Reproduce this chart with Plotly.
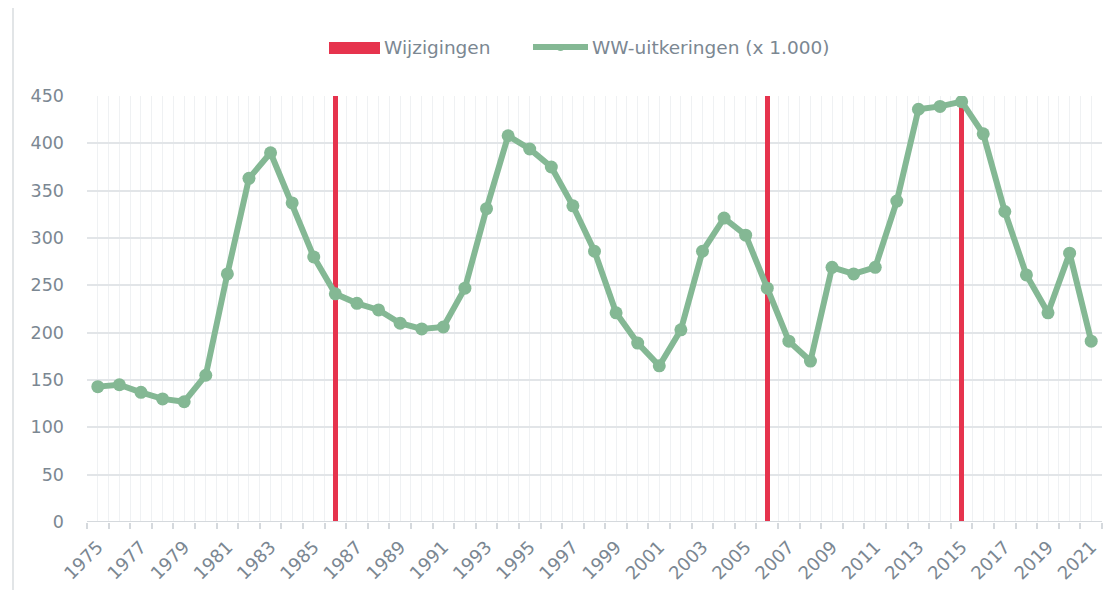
import plotly.graph_objects as go

years = list(range(1975, 2022))
ww_uitkeringen = [143, 145, 137, 130, 127, 155, 262, 363, 390, 337, 280, 241, 231, 224, 210, 204,
                  206, 247, 331, 408, 394, 375, 334, 286, 221, 189, 165, 203, 286, 321, 303, 247,
                  191, 170, 269, 262, 269, 339, 436, 439, 444, 410, 328, 261, 221, 284, 191]
wijziging_years = [1986, 2006, 2015]
wijziging_values = [450, 450, 450]
tick_labels = [str(y) for y in range(1975, 2022, 2)]

RED = "#E6334D"
GREEN = "#84B894"
GRAY_TXT = "#7B8792"
FONT = "DejaVu Sans"

OFF = 8  # page body margin
W, H = 1113 - 2 * OFF, 598 - 2 * OFF
# plot area in screen pixels (reference)
SX0, SX1, SY0, SY1 = 87, 1102, 96, 522
L = SX0 - OFF
R = W - (SX1 - OFF)
T = SY0 - OFF
B = H - (SY1 - OFF)
pw = SX1 - SX0
ph = SY1 - SY0

def px_x(p):
    return (p - SX0) / pw

def px_y(p):
    return (SY1 - p) / ph

fig = go.Figure()
fig.add_trace(go.Bar(x=wijziging_years, y=wijziging_values, width=0.24,
                     marker=dict(color=RED, line=dict(width=0)), name="Wijzigingen",
                     showlegend=False))
fig.add_trace(go.Scatter(x=years, y=ww_uitkeringen, mode="lines+markers",
                         line=dict(color=GREEN, width=6),
                         marker=dict(color=GREEN, size=13),
                         name="WW-uitkeringen (x 1.000)", showlegend=False))

fig.update_layout(
    width=W, height=H,
    margin=dict(l=L, r=R, t=T, b=B, autoexpand=False),
    plot_bgcolor="white", paper_bgcolor="white",
    font=dict(family=FONT, color=GRAY_TXT, size=17),
    xaxis=dict(range=[1974.5, 2021.5], tickvals=list(range(1975, 2022, 2)), ticktext=tick_labels,
               tickangle=-45, showgrid=False, ticks="", zeroline=False,
               tickfont=dict(size=18, color=GRAY_TXT), ticklabelstandoff=10,
               minor=dict(tick0=1974.5, dtick=0.5, showgrid=True, gridcolor="#EFF1F3", gridwidth=1.2),
               showline=False),
    xaxis2=dict(range=[1974.5, 2021.5], overlaying="x", anchor="y", side="bottom",
                tickvals=[y + 0.5 for y in range(1974, 2022)], showticklabels=False,
                ticks="outside", ticklen=6, tickcolor="#D5D9DD", tickwidth=1.5,
                showgrid=False, zeroline=False, showline=False),
    yaxis=dict(range=[0, 450], dtick=50, showgrid=True, gridcolor="#E2E5E8", gridwidth=1.5,
               zeroline=False, showline=False, ticks="", ticklabelstandoff=22,
               tickfont=dict(size=17.5, color=GRAY_TXT)),
    bargap=0,
)
fig.add_trace(go.Scatter(x=[], y=[], xaxis="x2", yaxis="y", showlegend=False, hoverinfo="skip"))

# baseline
fig.add_shape(type="line", xref="paper", yref="y", x0=0, x1=1, y0=0, y1=0,
              line=dict(color="#D5D9DD", width=2), layer="above")
# chart frame left border
fig.add_shape(type="line", xref="paper", yref="paper", x0=px_x(13), x1=px_x(13),
              y0=px_y(598), y1=px_y(0), line=dict(color="#D9DCDF", width=1.5))

# manual legend
ly = 47
fig.add_shape(type="rect", xref="paper", yref="paper",
              x0=px_x(329), x1=px_x(380), y0=px_y(54), y1=px_y(42),
              fillcolor=RED, line=dict(width=0))
fig.add_annotation(xref="paper", yref="paper", x=px_x(382), y=px_y(ly), text="Wijzigingen",
                   showarrow=False, xanchor="left", yanchor="middle",
                   font=dict(size=18.5, color=GRAY_TXT, family=FONT))
fig.add_shape(type="line", xref="paper", yref="paper",
              x0=px_x(533), x1=px_x(588), y0=px_y(ly), y1=px_y(ly),
              line=dict(color=GREEN, width=6))
fig.add_shape(type="circle", xref="paper", yref="paper",
              x0=px_x(557), x1=px_x(564), y0=px_y(ly + 4), y1=px_y(ly - 3),
              fillcolor=GREEN, line=dict(width=0))
fig.add_annotation(xref="paper", yref="paper", x=px_x(590), y=px_y(ly),
                   text="WW-uitkeringen (x 1.000)",
                   showarrow=False, xanchor="left", yanchor="middle",
                   font=dict(size=18.5, color=GRAY_TXT, family=FONT))

fig.write_html("out.html")
